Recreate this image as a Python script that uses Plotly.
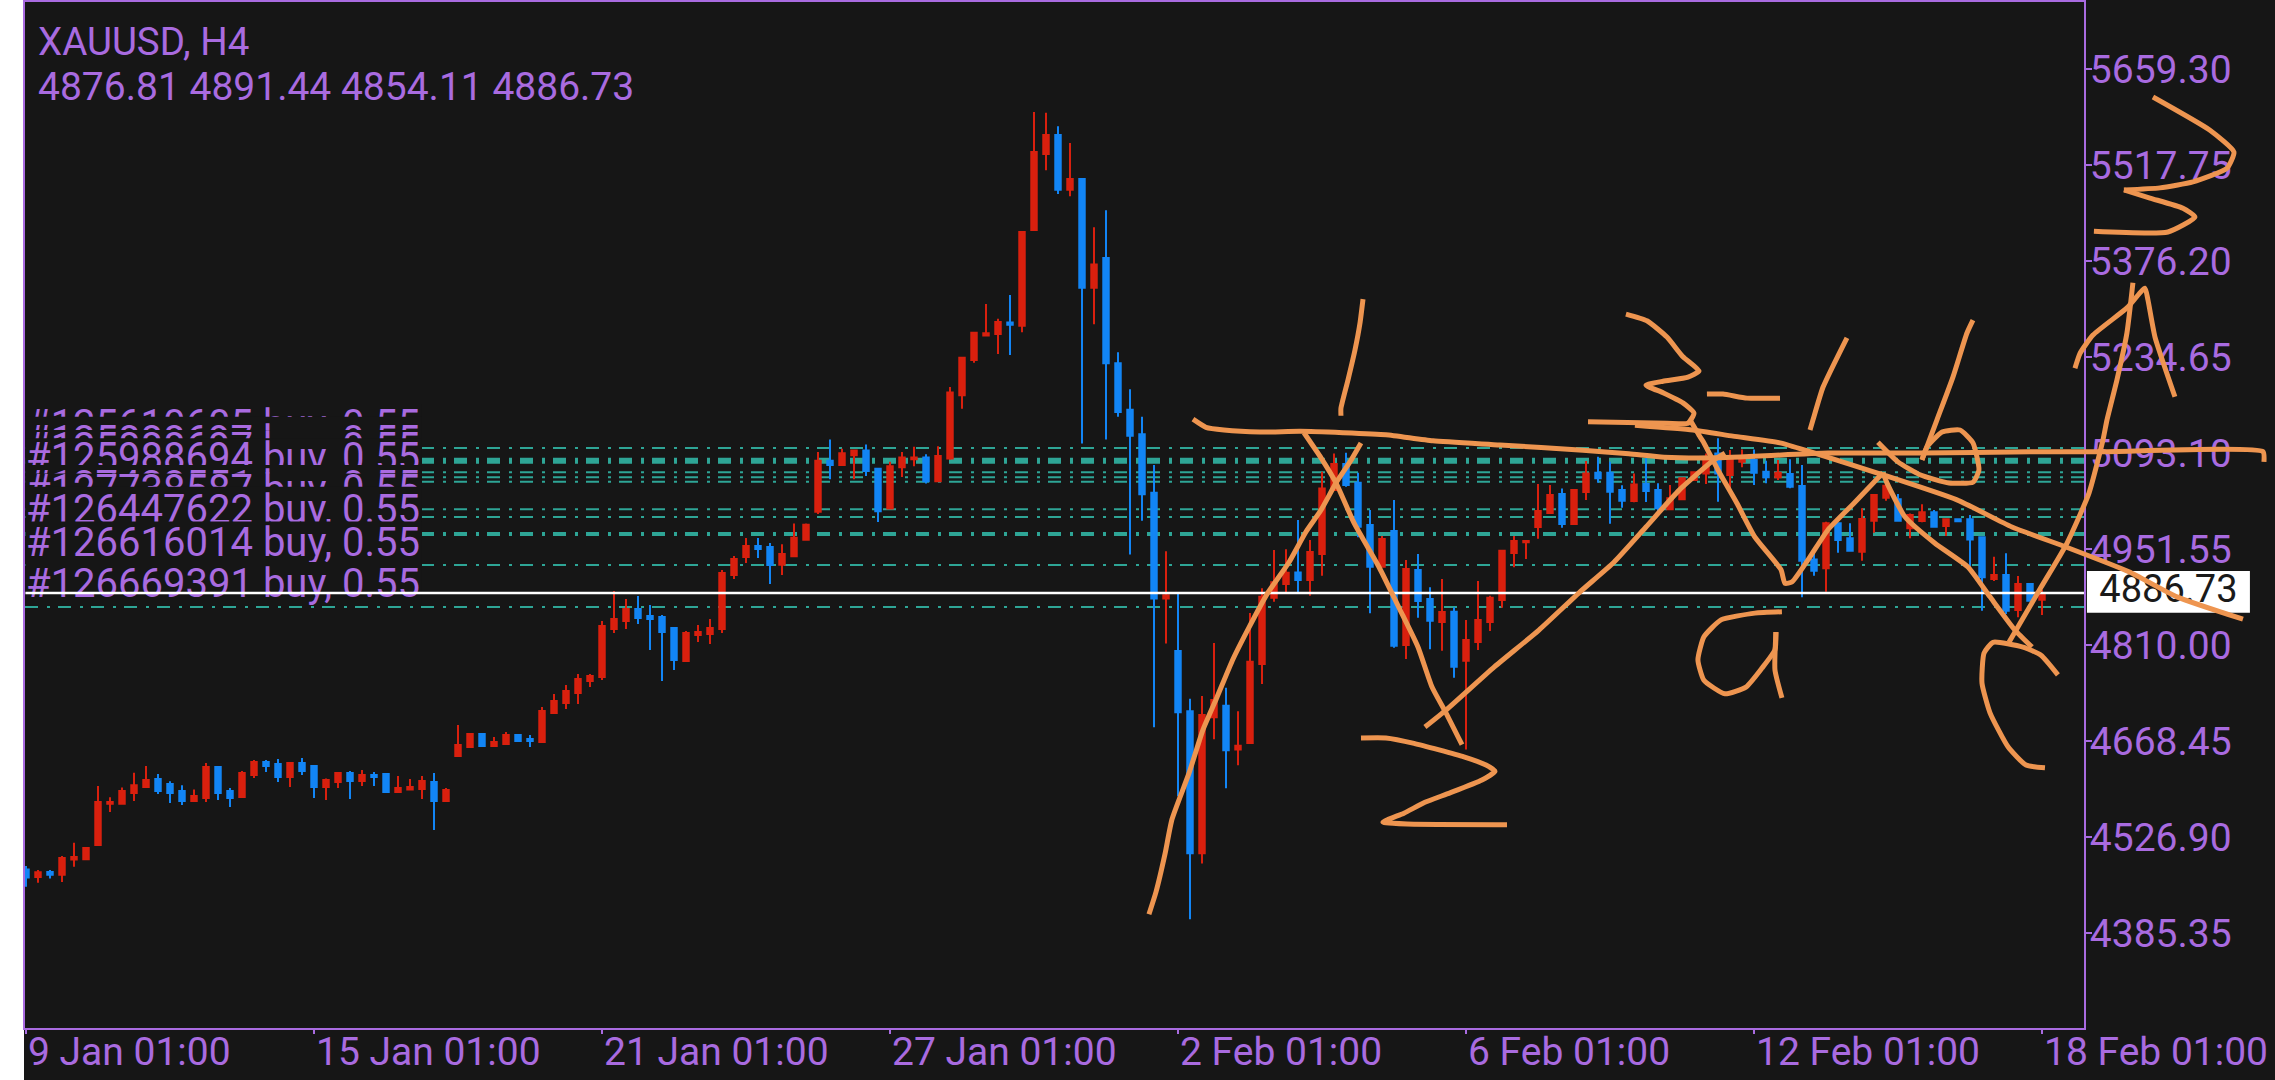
import plotly.graph_objects as go

# XAUUSD H4 candles
opens = [4479, 4468, 4475.3, 4471, 4493.5, 4494, 4515, 4576, 4576, 4591.8,
         4600.6, 4612.4, 4605, 4594.7, 4580, 4584.4, 4630, 4594.7, 4585.9, 4618.3,
         4637.5, 4634.5, 4615.4, 4636, 4631.6, 4600.6, 4608, 4621.3, 4609.5, 4618.3,
         4619.8, 4593.2, 4596.7, 4597.6, 4608, 4580, 4646.3, 4659.6, 4678.8, 4661,
         4664, 4677.3, 4671.4, 4667, 4709.7, 4724.5, 4739, 4756.9, 4762.8, 4833.6,
         4845.4, 4863, 4852.7, 4851.3, 4835, 4786.4, 4824.7, 4826.2, 4833.6, 4913.2,
         4939.7, 4956, 4954.5, 4928.2, 4941, 4965, 5006.5, 5081.6, 5075.2, 5089.6,
         5096.8, 5069.7, 5011.3, 5072, 5084, 5086.4, 5051.3, 5084.8, 5178.3, 5230.3,
         5266.3, 5268.7, 5285.4, 5280.6, 5422, 5534, 5562, 5481.2, 5497.2, 5336.6,
         5380.5, 5225.5, 5156.8, 5120.8, 5034.5, 4878.6, 4801, 4712.4, 4503, 4703.6,
         4720.4, 4655.7, 4665.3, 4781.9, 4879.7, 4899.9, 4917, 4905.8, 4944.1, 5038.5,
         5076.8, 5049.3, 4986.9, 4925.4, 4978, 4810, 4920.5, 4877.8, 4843.9, 4859,
         4786.8, 4814.4, 4843.8, 4876.3, 4945.6, 4961.3, 4984, 5004.6, 5032.6, 4988.4,
         5035.5, 5064, 5064, 5038.5, 5022.3, 5047.3, 5038.5, 5010, 5024.7, 5053.2,
         5063, 5092.5, 5060.6, 5080.3, 5082.7, 5065.5, 5057.2, 5062, 5044.4, 4936.2,
         4923, 4989.3, 4967.2, 4947.6, 4993.3, 5027.2, 5024.7, 4982, 4992.8, 5005.6,
         4985.4, 4995.2, 4995.2, 4968.7, 4907.3, 4913.2, 4861.5, 4899.9, 4876.81]
highs = [4484, 4478, 4478.2, 4499, 4518.5, 4511.6, 4602, 4585.4, 4600, 4621.7,
         4631.6, 4619.8, 4609, 4603, 4597, 4636, 4631.6, 4599, 4624, 4640.4,
         4640.4, 4641.9, 4637.5, 4643.4, 4633, 4613, 4621.3, 4624.2, 4625.7, 4622.7,
         4621.3, 4616.8, 4612.4, 4616.8, 4621.3, 4599, 4692, 4680.2, 4679, 4674.3,
         4681.7, 4677.5, 4677.3, 4718.6, 4737.7, 4751, 4767.2, 4767.2, 4845.4, 4889.6,
         4877.8, 4882.2, 4869, 4854.2, 4835, 4830.6, 4839.5, 4848.3, 4920.6, 4941.2,
         4967.8, 4967.8, 4960.4, 4958.5, 4989, 4989, 5094.4, 5112.8, 5099.2, 5096.8,
         5105.6, 5069.7, 5080, 5094.4, 5102.4, 5091.2, 5103.2, 5190.3, 5234.3, 5271.9,
         5312.6, 5291, 5326.2, 5420.5, 5596, 5594.7, 5574.8, 5550, 5497.2, 5426,
         5450.9, 5241.5, 5187, 5146.4, 5075.2, 4948.2, 4885, 4730.8, 4734.8, 4813,
         4746.8, 4712.4, 4857, 4893.5, 4950, 4951, 4994.2, 4964.8, 5065.5, 5092.5,
         5093.5, 5064, 5009, 4970.7, 5023.7, 4935.3, 4944.1, 4895, 4907.3, 4865.5,
         4846.8, 4904.3, 4882.7, 4950, 4970.7, 4964.3, 5047.3, 5045.9, 5040.9, 5040,
         5081.2, 5087.6, 5080.3, 5045.4, 5063, 5085.2, 5048.3, 5045.9, 5057.2, 5065.5,
         5092.5, 5114.7, 5097.5, 5098.4, 5098.4, 5081.7, 5082.7, 5083.7, 5075.4, 4947.6,
         4991.8, 4990.3, 4989.3, 5011.5, 5032.6, 5048.3, 5032.6, 5004, 5017.4, 5009,
         4996.7, 4995.5, 5001.6, 4968.7, 4940.2, 4945.1, 4911.7, 4900.9, 4891.44]
lows = [4453.6, 4459.5, 4465.5, 4460.5, 4483, 4493, 4513.6, 4563.7, 4575.5, 4580,
        4600.6, 4590.3, 4577, 4574, 4578.5, 4578.5, 4581.4, 4571, 4585.9, 4614,
        4622.7, 4608, 4600.6, 4618.3, 4584.4, 4581.4, 4599, 4583, 4602, 4602,
        4591.8, 4593.2, 4596.2, 4583, 4537.2, 4580, 4646.3, 4659.6, 4660.5, 4661,
        4664, 4668, 4659.6, 4667, 4709.7, 4715.6, 4723, 4748, 4758.4, 4827.7,
        4833.6, 4841, 4802.6, 4756.9, 4773, 4785, 4814.4, 4811.5, 4827.7, 4907.3,
        4930.9, 4938.3, 4900, 4913, 4941, 4965, 5003.3, 5054.5, 5075.2, 5054.5,
        5059.3, 4991.3, 5011.3, 5057.7, 5073.7, 5048, 5051.3, 5083.2, 5158.4, 5226.3,
        5264.7, 5239, 5237.5, 5271, 5420.5, 5510, 5474.9, 5471.7, 5107.2, 5283,
        5112.8, 5146.4, 4943.4, 4993, 4688.5, 4812.3, 4587, 4405.5, 4487.9, 4670.9,
        4598.9, 4632.5, 4665.3, 4752.4, 4873.8, 4885, 4887, 4882.7, 4912.2, 5038.5,
        5043.4, 4968.7, 4856.6, 4925.4, 4806, 4789.3, 4850.2, 4803.6, 4801.6, 4761.8,
        4656, 4802.6, 4830.6, 4865, 4924.5, 4936.7, 4966.7, 5004.6, 4983, 4988.4,
        5023.7, 5049.3, 4988.8, 5012.4, 5020.3, 5020.8, 5001.6, 5010, 5024.7, 5053.2,
        5047.3, 5021.3, 5041, 5071.9, 5045.9, 5048.3, 5053.2, 5041, 4880.2, 4912.2,
        4888.6, 4946, 4949, 4934.3, 4975.6, 5022.8, 4993.3, 4967.2, 4990.8, 4983.4,
        4970.7, 4992, 4925.4, 4860.6, 4904.3, 4855.6, 4850.7, 4873.8, 4854.11]
closes = [4467, 4475, 4471.3, 4496, 4497.4, 4510.7, 4578.5, 4578.5, 4594.7, 4603,
          4611, 4594.7, 4591.8, 4580, 4587.3, 4630, 4591.8, 4584.4, 4621.3, 4637.5,
          4631.6, 4615.4, 4636, 4624.2, 4600.6, 4611, 4621.3, 4609.5, 4618.3, 4615.4,
          4593.2, 4599, 4600.6, 4609.5, 4580, 4596.2, 4662.5, 4678.8, 4661, 4667,
          4677.3, 4668.4, 4668.4, 4712.7, 4727.4, 4742.2, 4759.9, 4764.3, 4838, 4848.3,
          4863, 4849.8, 4848.3, 4829.2, 4788, 4827.7, 4829.2, 4835, 4916, 4936.8,
          4956, 4951.5, 4928, 4944.2, 4968, 4987.3, 5081.6, 5075.2, 5092.8, 5096.8,
          5066.5, 5007.3, 5073.7, 5086.4, 5086.4, 5051.3, 5088.8, 5182.3, 5233.5, 5270.3,
          5269.5, 5286.3, 5282.2, 5418.9, 5537, 5562, 5481.2, 5497.2, 5336.6, 5371,
          5225.5, 5153.6, 5118.4, 5032.1, 4878.6, 4883.4, 4710.8, 4503, 4706.8, 4729,
          4654.9, 4661.3, 4785.2, 4881.2, 4902.3, 4916.6, 4905.8, 4947, 5040.9, 5076.8,
          5045.9, 4984.4, 4925.4, 4966.2, 4809, 4922, 4874.8, 4845.8, 4858.6, 4778,
          4817.3, 4846.8, 4879.7, 4949, 4963.3, 4963.3, 5007.5, 5031.1, 4988.4, 5038.5,
          5063, 5056, 5036, 5022.8, 5046.8, 5037, 5011.5, 5026.2, 5055.7, 5064.5,
          5085.2, 5063, 5082.7, 5085.2, 5064, 5057.2, 5064, 5043.4, 4934.3, 4919.5,
          4989.3, 4964.8, 4949, 4995.7, 5031.1, 5044.9, 4993.3, 5001.6, 5005.6, 4984.4,
          4995.2, 4992.3, 4965.7, 4909.7, 4913.2, 4860.6, 4899.9, 4875.3, 4886.73]
bars = list(range(len(opens)))

price_ticks = [5659.30, 5517.75, 5376.20, 5234.65, 5093.10, 4951.55, 4810.00, 4668.45, 4526.90, 4385.35]
price_labels = [f"{p:.2f}" for p in price_ticks]
time_ticks = [0, 24, 48, 72, 96, 120, 144, 168]
time_labels = ["9 Jan 01:00", "15 Jan 01:00", "21 Jan 01:00", "27 Jan 01:00",
               "2 Feb 01:00", "6 Feb 01:00", "12 Feb 01:00", "18 Feb 01:00"]

last_price = 4886.73
order_prices = [5100.4, 5081.7, 5064.5, 5057.2, 5050.8, 5010.0, 4998.7, 4973.6, 4927.9, 4866.0]
order_widths = [2, 6, 2, 2, 2, 2, 2, 4, 2, 2]

# stacked trade labels: each one partly hides the one above it
order_labels = ["#125610605 buy, 0.55", "#125888697 buy, 0.55", "#125888697 buy, 0.55",
                "#125988694 buy, 0.55", "#127428551 buy, 0.55", "#127738587 buy, 0.55",
                "#126447622 buy, 0.55", "#126616014 buy, 0.55", "#126669391 buy, 0.55"]
label_centers = [5130, 5107, 5096, 5082, 5040, 5034.7, 5005.3, 4956.6, 4896.1]
label_tops = [5165.3, 5146.6, 5127, 5114.8, 5075.4, 5062.8, 5043.4, 4992.1, 4932.4]
label_bottoms = [5103.4, 5080.5, 5069.5, 5055.5, 5013.5, 5008.3, 4978.8, 4930.1, 4869.7]

# hand drawn pen strokes, (bar number, price)
pen_strokes = [
    ([93.58, 94.17, 94.92, 95.5, 96.92, 98.08, 99.25, 100.58, 101.92, 103.42, 105.25, 106.67, 107.92, 109.17, 110.33, 111.25],
     [4413, 4446, 4502, 4553, 4621, 4685, 4733, 4789, 4836, 4885, 4932, 4977, 5009, 5049, 5080, 5108]),
    ([97.25, 98.33, 99.83, 102.83, 106.17, 109.75, 113.33, 117.25, 122.83, 129.75, 133.58, 136.5, 140.67, 150.17, 157.83, 167, 173.08, 186.42, 186.5],
     [5143, 5131, 5127, 5124, 5125, 5123, 5120, 5111, 5105, 5097, 5092, 5087, 5086, 5093, 5093, 5095, 5095, 5095, 5080]),
    ([106.5, 107.92, 109.17, 110.67, 112.75, 114.5, 116, 117.17, 118.33, 119.67],
     [5123, 5086, 5049, 4990, 4925, 4862, 4807, 4748, 4710, 4663]),
    ([111.25, 113.33, 115.67, 119.83, 121.67, 122.42, 121.33, 118.67, 116.58, 114.83, 113.08, 115.08, 123.42],
     [4673, 4673, 4665, 4645, 4633, 4624, 4611, 4592, 4578, 4562, 4549, 4546, 4545]),
    ([116.58, 118.33, 122.25, 126.08, 129.42, 132.33, 135, 137.75, 140.67, 141.58],
     [4689, 4714, 4776, 4832, 4887, 4932, 4984, 5038, 5083, 5093]),
    ([111.42, 111.17, 110.75, 110.17, 109.58, 109.58],
     [5320, 5285, 5245, 5201, 5159, 5148]),
    ([133.33, 135.08, 136.75, 138.08, 139.42, 138.5, 136.42, 135, 136.42, 138.08, 139, 138.5, 136.75, 130.17],
     [5298, 5288, 5264, 5235, 5214, 5205, 5199, 5193, 5182, 5167, 5152, 5137, 5137, 5139]),
    ([140.08, 141.42, 143.42, 146.17],
     [5180, 5180, 5174, 5174]),
    ([134.08, 138.92, 142.25, 146.17, 148.67, 154.75, 160.92, 165.5, 170.08, 175.25, 179.25, 184.75],
     [5134, 5127, 5118, 5108, 5095, 5061, 5024, 4984, 4954, 4918, 4881, 4848]),
    ([138.67, 139.5, 139.83, 141, 142.58, 144.08, 146.25, 146.58, 147.17, 148.67, 150.17, 152.33, 154.75],
     [5142, 5117, 5108, 5068, 5019, 4969, 4921, 4901, 4903, 4940, 4980, 5019, 5064]),
    ([154.75, 155.08, 156.58, 159.08, 161.83, 163.67, 165.75, 167.17],
     [5064, 5049, 4999, 4960, 4925, 4881, 4832, 4807]),
    ([165.25, 167.92, 170.08, 171.92, 173.08, 173.42, 174.25, 175.08, 175.58],
     [4814, 4895, 4960, 5034, 5112, 5142, 5201, 5270, 5344]),
    ([146.33, 144.08, 141.25, 139.83, 139.33, 139.83, 141.58, 143.33, 144.67, 145.75, 145.83],
     [4859, 4857, 4847, 4822, 4788, 4758, 4738, 4748, 4776, 4803, 4829]),
    ([145.83, 145.75, 146.33],
     [4829, 4773, 4732]),
    ([162.25, 161.75, 160.58, 159.25, 158],
     [5289, 5270, 5205, 5142, 5083]),
    ([158, 158.42, 159.67, 161.17, 162.25, 162.75, 162.25, 160.25, 157.83, 156, 154.33],
     [5083, 5102, 5124, 5127, 5108, 5068, 5050, 5049, 5061, 5080, 5109]),
    ([151.75, 149.75, 148.92, 148.67],
     [5263, 5190, 5142, 5127]),
    ([169.33, 167.92, 166.42, 163.92, 163.17, 163, 163.67, 165.17, 166.67, 168.25],
     [4766, 4795, 4807, 4814, 4798, 4754, 4710, 4660, 4633, 4629]),
    ([177.25, 182, 184, 183.42, 180.58, 177.83, 174.83],
     [5618, 5569, 5537, 5513, 5493, 5484, 5481]),
    ([174.83, 177, 179.75, 180.75, 178.5, 172.33],
     [5481, 5469, 5454, 5441, 5419, 5420]),
    ([170.75, 171.17, 172.25, 175.08, 176.58, 176.83, 177.42, 179.08],
     [5218, 5240, 5267, 5307, 5336, 5319, 5264, 5176]),
]

BG = "#161616"
PURPLE = "#a96be0"
RED = "#d9200e"
BLUE = "#1285f5"
TEAL = "#2ea596"
ORANGE = "#ee9550"
FONT = "Roboto"
W, H = 2275, 1080

fig = go.Figure()

fig.add_trace(go.Candlestick(
    x=bars, open=opens, high=highs, low=lows, close=closes,
    increasing=dict(line=dict(color=RED, width=2), fillcolor=RED),
    decreasing=dict(line=dict(color=BLUE, width=2), fillcolor=BLUE),
    whiskerwidth=0, hoverinfo="skip", showlegend=False, xaxis="x", yaxis="y",
))

# second pair of axes in the same units, spread over the whole page, so the
# labels and the pen strokes can run past the frame
def overlay(**kwargs):
    fig.add_trace(go.Scatter(xaxis="x2", yaxis="y2", hoverinfo="skip", showlegend=False, **kwargs))

for name, center, top, bottom in zip(order_labels, label_centers, label_tops, label_bottoms):
    overlay(x=[-0.05, 33, 33, -0.05, -0.05], y=[top, top, bottom, bottom, top], mode="lines",
            fill="toself", fillcolor=BG, line=dict(width=0, color=BG))
    overlay(x=[0], y=[center], mode="text", text=[name], textposition="middle right",
            textfont=dict(family=FONT, size=40, color=PURPLE), cliponaxis=False)

overlay(x=[-0.05, 171.5], y=[last_price, last_price], mode="lines", line=dict(color="white", width=2.5))

overlay(x=[171.75, 185.33, 185.33, 171.75, 171.75], y=[4919, 4919, 4857.6, 4857.6, 4919], mode="lines",
        fill="toself", fillcolor="white", line=dict(width=0, color="white"))
overlay(x=[178.54], y=[last_price], mode="text", text=[f"{last_price:.2f}"], textposition="middle center",
        textfont=dict(family=FONT, size=38, color="#1a1a1a"), cliponaxis=False)

for xs, ys in pen_strokes:
    overlay(x=xs, y=ys, mode="lines", line=dict(color=ORANGE, width=5, shape="spline", smoothing=0.5))

shapes = [dict(type="rect", xref="paper", yref="paper", x0=0, x1=24 / W, y0=0, y1=1,
               fillcolor="white", line_width=0, layer="below")]
for price, width in zip(order_prices, order_widths):
    shapes.append(dict(type="line", xref="x domain", yref="y", x0=0, x1=1, y0=price, y1=price, layer="below",
                       line=dict(color=TEAL, width=width, dash="13px,9px,3px,8px")))

annotations = [
    dict(text="XAUUSD, H4", xref="paper", yref="paper", x=36 / W, y=1 - 41 / H, xanchor="left", yanchor="middle",
         showarrow=False, font=dict(family=FONT, size=38.5, color=PURPLE)),
    dict(text="4876.81 4891.44 4854.11 4886.73", xref="paper", yref="paper", x=36 / W, y=1 - 87 / H,
         xanchor="left", yanchor="middle", showarrow=False, font=dict(family=FONT, size=39, color=PURPLE)),
]
for tick, label in zip(time_ticks, time_labels):
    annotations.append(dict(text=label, xref="x", yref="paper", x=tick, y=1 - 1051.7 / H, xanchor="left",
                            yanchor="middle", showarrow=False, font=dict(family=FONT, size=39, color=PURPLE)))

fig.update_layout(
    width=W, height=H, margin=dict(l=0, r=0, t=0, b=0), autosize=False,
    paper_bgcolor=BG, plot_bgcolor="rgba(0,0,0,0)", boxgap=0.35, showlegend=False,
    shapes=shapes, annotations=annotations,
    xaxis=dict(domain=[25 / W, 2084 / W], range=[-0.083, 171.5], anchor="y", showgrid=False, zeroline=False,
               rangeslider=dict(visible=False), showline=True, mirror=True, linecolor=PURPLE, linewidth=2,
               tickmode="array", tickvals=time_ticks, ticks="outside", ticklen=4, tickwidth=1.5, tickcolor=PURPLE,
               showticklabels=False),
    yaxis=dict(domain=[1 - 1028 / H, 1 - 2.3 / H], range=[4245.2, 5757.65], anchor="x", side="right",
               showgrid=False, zeroline=False, showline=True, mirror=True, linecolor=PURPLE, linewidth=2,
               tickmode="array", tickvals=price_ticks, ticktext=price_labels, ticks="outside", ticklen=6,
               tickwidth=1.5, tickcolor=PURPLE, ticklabelstandoff=-10,
               tickfont=dict(family=FONT, size=39, color=PURPLE)),
    xaxis2=dict(domain=[0, 1], range=[-2.1667, 187.42], anchor="y2", visible=False),
    yaxis2=dict(domain=[0, 1], range=[4168.6, 5761.04], anchor="x2", visible=False),
)

# the browser's default body margin would push the chart off by 8px
fig.write_html("out.html", config=dict(displayModeBar=False),
               post_script="document.body.style.margin='0';document.documentElement.style.background='#161616';")
